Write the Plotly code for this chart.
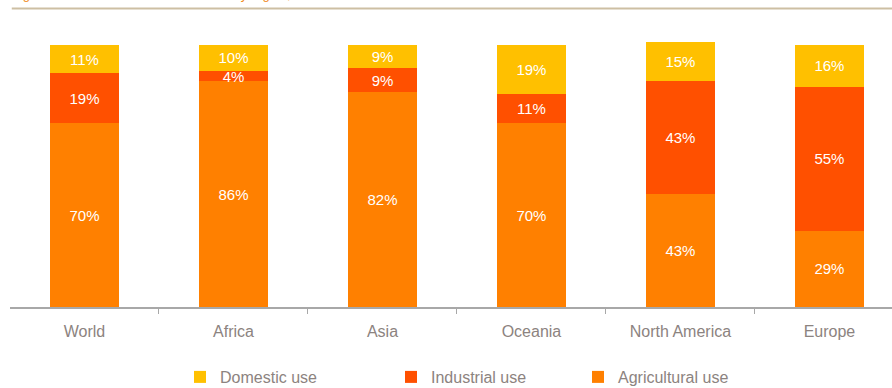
import plotly.graph_objects as go

# Share of water withdrawals by sector for each region (%)
regions = ["World", "Africa", "Asia", "Oceania", "North America", "Europe"]
agricultural = [70, 86, 82, 70, 43, 29]
industrial = [19, 4, 9, 11, 43, 55]
domestic = [11, 10, 9, 19, 15, 16]

series = [
    ("Agricultural use", agricultural, "#FF8000", "legend3"),
    ("Industrial use", industrial, "#FF5000", "legend2"),
    ("Domestic use", domestic, "#FFC000", "legend"),
]

positions = list(range(len(regions)))
font_family = "Liberation Sans, Arial"

fig = go.Figure()
for name, values, color, leg in series:
    fig.add_trace(go.Bar(
        x=positions,
        y=values,
        name=name,
        marker=dict(color=color, line=dict(width=0)),
        text=[f"{v}%" for v in values],
        textposition="inside",
        insidetextanchor="middle",
        textfont=dict(color="white", size=15, family=font_family),
        legend=leg,
        showlegend=True,
        hoverinfo="skip",
    ))

label_color = "#8C8380"
W, H = 892, 388
legend_common = dict(
    visible=True,
    orientation="h",
    xref="container",
    yref="container",
    yanchor="middle",
    y=1 - 377 / H,
    xanchor="left",
    font=dict(size=16, color=label_color, family=font_family),
    bgcolor="rgba(0,0,0,0)",
    itemwidth=30,
)

fig.update_layout(
    width=W,
    height=H,
    barmode="stack",
    bargap=0.537,
    showlegend=True,
    plot_bgcolor="white",
    paper_bgcolor="white",
    margin=dict(l=10, r=0, t=42.4, b=81, autoexpand=False),
    uniformtext=dict(minsize=15, mode="show"),
    font=dict(family=font_family, color=label_color),
    legend=dict(legend_common, x=180 / W),
    legend2=dict(legend_common, x=391 / W),
    legend3=dict(legend_common, x=578 / W),
    xaxis=dict(
        range=[-0.5, 5.42],
        tickmode="array",
        tickvals=positions,
        ticktext=regions,
        ticks="",
        ticklabelstandoff=9,
        tickfont=dict(size=16, color=label_color),
        showgrid=False,
        zeroline=False,
        showline=True,
        linecolor="#A8A8A8",
        linewidth=1.5,
        minor=dict(
            tickmode="array",
            tickvals=[p + 0.5 for p in positions[:-1]],
            ticks="outside",
            ticklen=5,
            tickcolor="#A8A8A8",
            tickwidth=1,
            showgrid=False,
        ),
        fixedrange=True,
    ),
    yaxis=dict(
        range=[0, 101],
        visible=False,
        showgrid=False,
        zeroline=False,
        fixedrange=True,
    ),
    shapes=[
        dict(
            type="line", xref="paper", yref="paper",
            x0=0.002, x1=1.0, y0=(307 - 9) / 264.6, y1=(307 - 9) / 264.6,
            line=dict(color="#CDBFA3", width=2),
        )
    ],
    annotations=[
        dict(
            text="Figure 3: Total freshwater withdrawals by region, %",
            xref="paper", yref="paper",
            x=0.0, y=(307 - 4) / 264.6,
            xanchor="left", yanchor="bottom",
            showarrow=False,
            font=dict(size=13, color="#F08A1C", family=font_family),
        )
    ],
)

fig.write_html("out.html")
